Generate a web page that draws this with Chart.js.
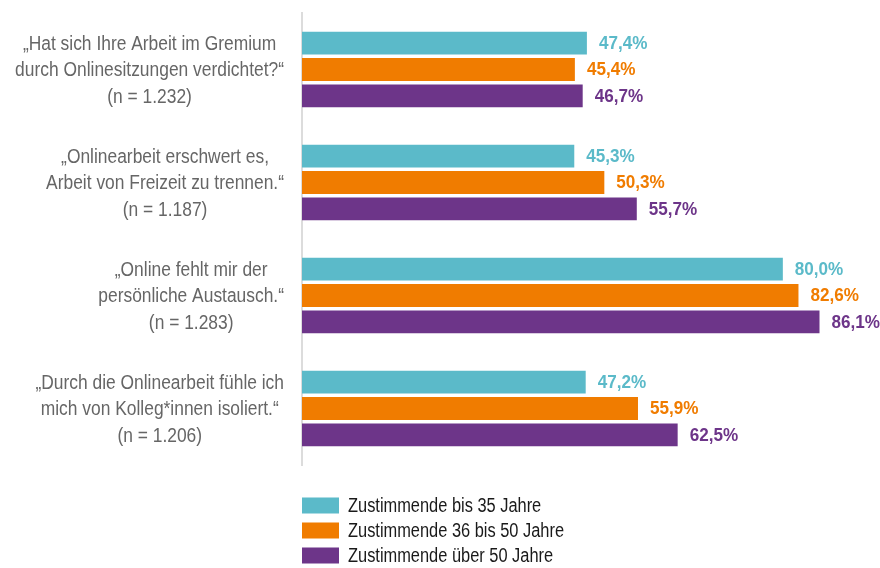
<!DOCTYPE html>
<html>
<head>
<meta charset="utf-8">
<script src="https://cdn.jsdelivr.net/npm/chart.js@4"></script>
<style>
  html, body { margin: 0; padding: 0; background: #fff; }
  #wrap { width: 880px; height: 568px; position: relative; }
</style>
</head>
<body>
<div id="wrap"><canvas id="survey"></canvas></div>
<script>
const categories = [
  ["„Hat sich Ihre Arbeit im Gremium", "durch Onlinesitzungen verdichtet?“", "(n = 1.232)"],
  ["„Onlinearbeit erschwert es,", "Arbeit von Freizeit zu trennen.“", "(n = 1.187)"],
  ["„Online fehlt mir der", "persönliche Austausch.“", "(n = 1.283)"],
  ["„Durch die Onlinearbeit fühle ich", "mich von Kolleg*innen isoliert.“", "(n = 1.206)"]
];
const seriesNames = ["Zustimmende bis 35 Jahre", "Zustimmende 36 bis 50 Jahre", "Zustimmende über 50 Jahre"];
const upTo35 = [47.4, 45.3, 80.0, 47.2];
const from36to50 = [45.4, 50.3, 82.6, 55.9];
const over50 = [46.7, 55.7, 86.1, 62.5];
const colors = ["#5bbac9", "#f07c00", "#6d3589"];

const labelFont = '20px "Liberation Sans", Arial, sans-serif';
const valueFont = 'bold 18px "Liberation Sans", Arial, sans-serif';
const narrow = 0.87;   // fake a condensed face by squeezing horizontally

function squeezedText(ctx, txt, x, y, align, sx) {
  const w = ctx.measureText(txt).width * sx;
  let left = x;
  if (align === "center") left = x - w / 2;
  else if (align === "right") left = x - w;
  ctx.save();
  ctx.translate(left, y);
  ctx.scale(sx, 1);
  ctx.textAlign = "left";
  ctx.fillText(txt, 0, 0);
  ctx.restore();
}

// category labels: each block centered on itself, block right-aligned near the axis
const categoryLabels = {
  id: "categoryLabels",
  afterDraw(chart) {
    const ctx = chart.ctx;
    const y = chart.scales.y;
    ctx.save();
    ctx.font = labelFont;
    ctx.fillStyle = "#666";
    ctx.textBaseline = "middle";
    const lineH = 26.5;
    chart.data.labels.forEach((lines, i) => {
      const widest = Math.max(...lines.map(l => ctx.measureText(l).width)) * narrow;
      const cx = 284 - widest / 2;
      const cy = y.getPixelForTick(i) + 1;
      lines.forEach((l, j) => {
        squeezedText(ctx, l, cx, cy + (j - (lines.length - 1) / 2) * lineH, "center", narrow);
      });
    });
    ctx.restore();
  }
};

// value labels to the right of each bar
const valueLabels = {
  id: "valueLabels",
  afterDatasetsDraw(chart) {
    const ctx = chart.ctx;
    ctx.save();
    ctx.font = valueFont;
    ctx.textBaseline = "middle";
    chart.data.datasets.forEach((ds, di) => {
      const meta = chart.getDatasetMeta(di);
      ctx.fillStyle = ds.backgroundColor;
      meta.data.forEach((bar, i) => {
        const txt = ds.data[i].toFixed(1).replace(".", ",") + "%";
        squeezedText(ctx, txt, bar.x + 12, bar.y + 1, "left", 0.95);
      });
    });
    ctx.restore();
  }
};

// stacked legend below the chart
const stackedLegend = {
  id: "stackedLegend",
  afterDraw(chart) {
    const ctx = chart.ctx;
    const left = chart.chartArea.left;
    ctx.save();
    ctx.font = labelFont;
    ctx.textBaseline = "middle";
    chart.data.datasets.forEach((ds, i) => {
      const cy = 505.5 + i * 25;
      ctx.fillStyle = ds.backgroundColor;
      ctx.fillRect(left, cy - 8, 37, 16);
      ctx.fillStyle = "#1a1a1a";
      squeezedText(ctx, ds.label, left + 46, cy + 1, "left", 0.82);
    });
    ctx.restore();
  }
};

new Chart(document.getElementById("survey"), {
  type: "bar",
  data: {
    labels: categories,
    datasets: [
      { label: seriesNames[0], data: upTo35, backgroundColor: colors[0] },
      { label: seriesNames[1], data: from36to50, backgroundColor: colors[1] },
      { label: seriesNames[2], data: over50, backgroundColor: colors[2] }
    ]
  },
  options: {
    indexAxis: "y",
    responsive: true,
    maintainAspectRatio: false,
    animation: false,
    layout: { padding: { left: 294, right: 7, top: 13, bottom: 103 } },
    datasets: { bar: { categoryPercentage: 0.7, barPercentage: 0.87 } },
    scales: {
      x: { display: false, min: 0, max: 95 },
      y: {
        ticks: { display: false },
        grid: { display: false },
        border: { display: true, color: "#dcdcdc", width: 2 }
      }
    },
    plugins: {
      legend: { display: false },
      tooltip: { enabled: false }
    }
  },
  plugins: [categoryLabels, valueLabels, stackedLegend]
});
</script>
</body>
</html>
